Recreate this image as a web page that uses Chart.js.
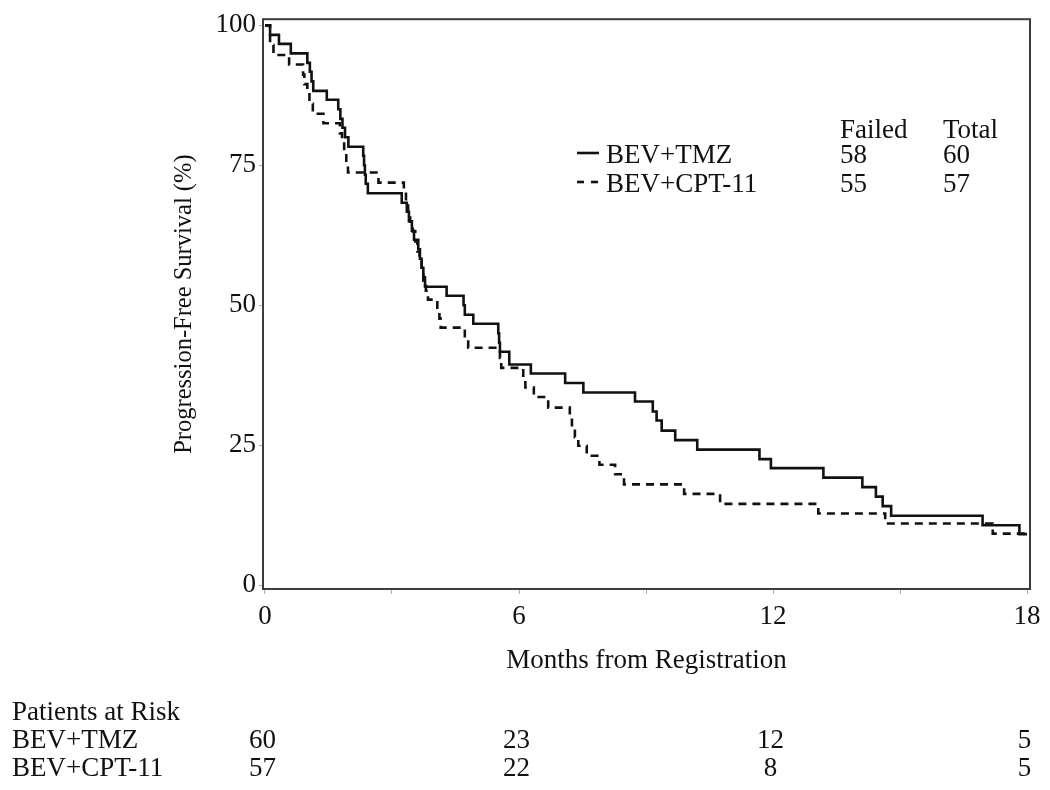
<!DOCTYPE html>
<html>
<head>
<meta charset="utf-8">
<script src="https://cdn.jsdelivr.net/npm/chart.js@4.4.1/dist/chart.umd.min.js"></script>
<style>
  html, body { margin: 0; padding: 0; background: #fff; }
</style>
</head>
<body>
<canvas id="km" width="1050" height="790"></canvas>
<script>
// BEV+TMZ curve: event times (months) and survival after each drop (%)
const tmzMonths = [0, 0.12, 0.33, 0.61, 1.00, 1.06, 1.10, 1.14, 1.46, 1.73, 1.78, 1.83, 1.89, 1.97,
	2.32, 2.34, 2.36, 2.38, 2.43, 3.23, 3.35, 3.40, 3.47, 3.52, 3.62, 3.66, 3.70, 3.74, 3.78,
	4.29, 4.69, 4.72, 4.92, 5.51, 5.53, 5.55, 5.77, 6.28, 7.09, 7.52, 8.74,
	9.16, 9.25, 9.37, 9.69, 10.21, 11.68, 11.95, 13.19, 14.11, 14.43, 14.59, 14.79, 16.95, 17.82, 18.0];
const tmzSurvival = [100, 98.3, 96.7, 95.0, 93.3, 91.7, 90.0, 88.3, 86.7, 85.0, 83.3, 81.7, 80.0, 78.3,
	76.7, 75.0, 73.3, 71.7, 70.0, 68.3, 66.7, 65.0, 63.3, 61.7, 60.0, 58.3, 56.7, 55.0, 53.3,
	51.7, 50.0, 48.3, 46.7, 45.0, 43.3, 41.7, 39.4, 37.8, 36.1, 34.4, 32.8,
	31.0, 29.4, 27.6, 25.9, 24.2, 22.5, 20.9, 19.2, 17.5, 15.8, 14.1, 12.4, 10.7, 9.1, 9.1];

// BEV+CPT-11 curve
const cptMonths = [0, 0.12, 0.20, 0.57, 0.90, 0.93, 1.00, 1.05, 1.13, 1.38, 1.77, 1.82, 1.87, 1.92, 1.96,
	2.68, 3.28, 3.33, 3.38, 3.43, 3.49, 3.55, 3.60, 3.65, 3.70, 3.74, 3.80, 3.85, 4.07, 4.12, 4.15,
	4.72, 4.80, 5.55, 5.58, 6.10, 6.15, 6.35, 6.69, 7.20, 7.25, 7.32, 7.40, 7.60, 7.90, 8.27, 8.48,
	9.90, 10.75, 13.07, 14.65, 17.19, 18.0];
const cptSurvival = [100, 96.5, 94.7, 93.0, 91.2, 89.5, 87.7, 86.0, 84.2, 82.5, 80.7, 78.9, 77.2, 75.4, 73.7,
	71.9, 70.2, 68.4, 66.7, 64.9, 63.2, 61.4, 59.6, 57.9, 56.1, 54.4, 52.6, 51.0, 49.3, 47.6, 46.0,
	44.2, 42.4, 40.6, 38.8, 37.0, 35.3, 33.6, 31.7, 29.9, 28.1, 26.4, 24.9, 23.1, 21.5, 19.8, 18.0,
	16.3, 14.5, 12.8, 11.0, 9.2, 9.2];

const seriesNames = ["BEV+TMZ", "BEV+CPT-11"];
const failedCounts = [58, 55];
const totalCounts = [60, 57];

const xTickValues = [0, 3, 6, 9, 12, 15, 18];
const xLabelValues = [0, 6, 12, 18];
const yTickValues = [0, 25, 50, 75, 100];

const atRiskMonths = [0, 6, 12, 18];
const tmzAtRisk = [60, 23, 12, 5];
const cptAtRisk = [57, 22, 8, 5];

const serif = '"Liberation Serif", "Times New Roman", serif';
const ink = "#111";

function toPoints(xs, ys) {
	return xs.map((m, i) => ({ x: m, y: ys[i] }));
}

const extras = {
	id: "extras",
	afterDraw(chart) {
		const { ctx, chartArea: a, scales } = chart;
		const x = scales.x;
		ctx.save();

		// frame round the plot
		ctx.strokeStyle = "#3c3c3c";
		ctx.lineWidth = 2;
		ctx.setLineDash([]);
		ctx.strokeRect(a.left, a.top, a.right - a.left, a.bottom - a.top);

		// legend with failed / total
		ctx.fillStyle = ink;
		ctx.font = "27px " + serif;
		ctx.textBaseline = "alphabetic";
		ctx.textAlign = "left";
		ctx.fillText("Failed", 840, 138);
		ctx.fillText("Total", 943, 138);

		const rows = [163, 192];
		ctx.strokeStyle = ink;
		ctx.lineWidth = 2.6;
		rows.forEach((yy, i) => {
			ctx.setLineDash(i === 0 ? [] : [7, 7]);
			ctx.beginPath();
			ctx.moveTo(577, yy - 10);
			ctx.lineTo(599, yy - 10);
			ctx.stroke();
			ctx.fillText(seriesNames[i], 606, yy);
			ctx.fillText(String(failedCounts[i]), 840, yy);
			ctx.fillText(String(totalCounts[i]), 943, yy);
		});
		ctx.setLineDash([]);

		// patients at risk table
		ctx.fillText("Patients at Risk", 12, 720);
		ctx.fillText(seriesNames[0], 12, 748);
		ctx.fillText(seriesNames[1], 12, 776);
		ctx.textAlign = "center";
		atRiskMonths.forEach((m, i) => {
			const px = x.getPixelForValue(m) - 2.5;
			ctx.fillText(String(tmzAtRisk[i]), px, 748);
			ctx.fillText(String(cptAtRisk[i]), px, 776);
		});

		ctx.restore();
	},
};

const ctx = document.getElementById("km");

const chart = new Chart(ctx, {
	type: "line",
	data: {
		datasets: [
			{
				label: seriesNames[0],
				data: toPoints(tmzMonths, tmzSurvival),
				borderColor: ink,
				borderWidth: 2.6,
				stepped: true,
				pointRadius: 0,
				fill: false,
			},
			{
				label: seriesNames[1],
				data: toPoints(cptMonths, cptSurvival),
				borderColor: ink,
				borderWidth: 2.6,
				borderDash: [8, 6],
				stepped: true,
				pointRadius: 0,
				fill: false,
			},
		],
	},
	options: {
		responsive: false,
		animation: false,
		layout: { padding: { top: 17, right: 20, left: 0, bottom: 0 } },
		plugins: {
			legend: { display: false },
			tooltip: { enabled: false },
		},
		scales: {
			x: {
				type: "linear",
				min: -0.047,
				max: 18.07,
				afterBuildTicks: (s) => {
					s.ticks = xTickValues.map((v) => ({ value: v }));
				},
				afterFit: (s) => {
					s.height = 201;
				},
				ticks: {
					autoSkip: false,
					maxRotation: 0,
					padding: 7,
					color: ink,
					font: { family: serif, size: 27 },
					callback: (v) => (xLabelValues.includes(v) ? String(v) : ""),
				},
				grid: { drawOnChartArea: false, drawTicks: true, tickLength: 5, color: "#aaa" },
				border: { display: false },
				title: {
					display: true,
					text: "Months from Registration",
					color: ink,
					font: { family: serif, size: 27 },
					padding: { top: 0, bottom: 113 },
				},
			},
			y: {
				min: -0.7,
				max: 101.1,
				afterBuildTicks: (s) => {
					s.ticks = yTickValues.map((v) => ({ value: v }));
				},
				afterFit: (s) => {
					s.width = 263;
				},
				ticks: {
					autoSkip: false,
					padding: 3,
					color: ink,
					font: { family: serif, size: 27 },
				},
				grid: { drawOnChartArea: false, drawTicks: true, tickLength: 4, color: "#aaa" },
				border: { display: false },
				title: {
					display: true,
					text: "Progression-Free Survival (%)",
					color: ink,
					font: { family: serif, size: 24.5 },
					padding: { top: 170, bottom: 0 },
				},
			},
		},
	},
	plugins: [extras],
});
</script>
</body>
</html>
